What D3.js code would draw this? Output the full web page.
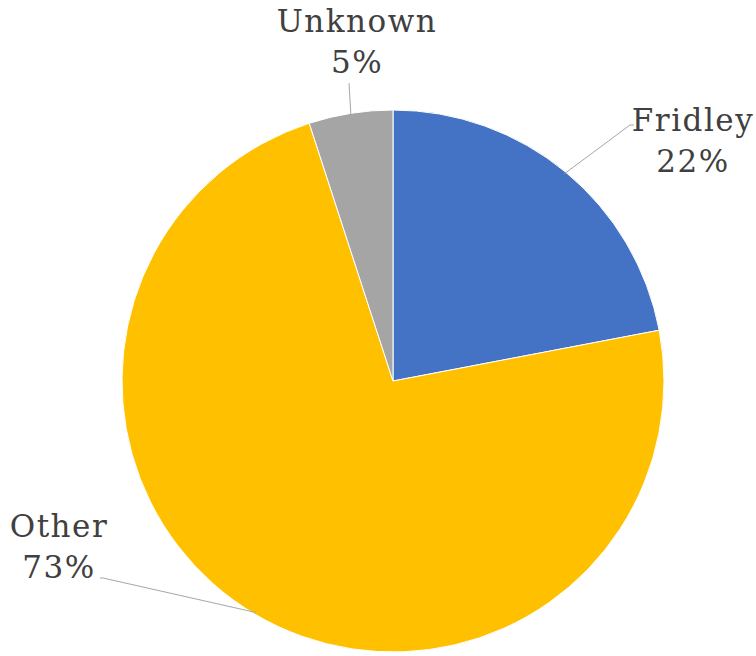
<!DOCTYPE html>
<html>
<head>
<meta charset="utf-8">
<script src="https://cdn.jsdelivr.net/npm/d3@7"></script>
<style>
    body { margin: 0; background: #fff; }
    svg text { font-family: "DejaVu Serif", serif; fill: #404040; }
</style>
</head>
<body>
<div id="chart"></div>
<script>
    // 数据
    const categories = ['Fridley', 'Other', 'Unknown'];
    const values = [22, 73, 5];
    const colors = ['#4472C4', '#FFC000', '#A5A5A5'];

    const width = 756, height = 656;
    const cx = 393, cy = 381, radius = 271;

    // 标签位置 (文字中心, 折线拐点)
    const labelLayout = {
        Fridley: { x: 693, y: 131, elbow: [630, 125], end: [634, 125] },
        Other:   { x: 59,  y: 537, elbow: [103, 578], end: [100, 578] },
        Unknown: { x: 357, y: 32,  elbow: [349, 83],  end: [349, 83] }
    };

    const svg = d3.select('#chart')
        .append('svg')
        .attr('width', width)
        .attr('height', height);

    const g = svg.append('g').attr('transform', `translate(${cx},${cy})`);

    const pie = d3.pie().sort(null).value(d => d.value);
    const data = categories.map((c, i) => ({ name: c, value: values[i], color: colors[i] }));
    const arcs = pie(data);

    const arc = d3.arc().innerRadius(0).outerRadius(radius);
    const edgeArc = d3.arc().innerRadius(radius - 2).outerRadius(radius - 2);

    g.selectAll('.slice')
        .data(arcs)
        .enter().append('path')
        .attr('class', 'slice')
        .attr('d', arc)
        .attr('fill', d => d.data.color)
        .attr('stroke', '#fff')
        .attr('stroke-width', 1);

    // 引线
    g.selectAll('.leader')
        .data(arcs)
        .enter().append('polyline')
        .attr('class', 'leader')
        .attr('fill', 'none')
        .attr('stroke', '#a6a6a6')
        .attr('stroke-width', 1)
        .attr('points', d => {
            const p = edgeArc.centroid(d);
            const l = labelLayout[d.data.name];
            return [p, [l.elbow[0] - cx, l.elbow[1] - cy], [l.end[0] - cx, l.end[1] - cy]]
                .map(q => q.join(',')).join(' ');
        });

    // 标签
    const labels = svg.selectAll('.label')
        .data(arcs)
        .enter().append('text')
        .attr('class', 'label')
        .attr('text-anchor', 'middle')
        .attr('font-size', 31)
        .attr('letter-spacing', 1.5)
        .attr('x', d => labelLayout[d.data.name].x)
        .attr('y', d => labelLayout[d.data.name].y);

    labels.append('tspan')
        .attr('x', d => labelLayout[d.data.name].x)
        .text(d => d.data.name);

    labels.append('tspan')
        .attr('x', d => labelLayout[d.data.name].x)
        .attr('dy', 41)
        .text(d => d.data.value + '%');
</script>
</body>
</html>
